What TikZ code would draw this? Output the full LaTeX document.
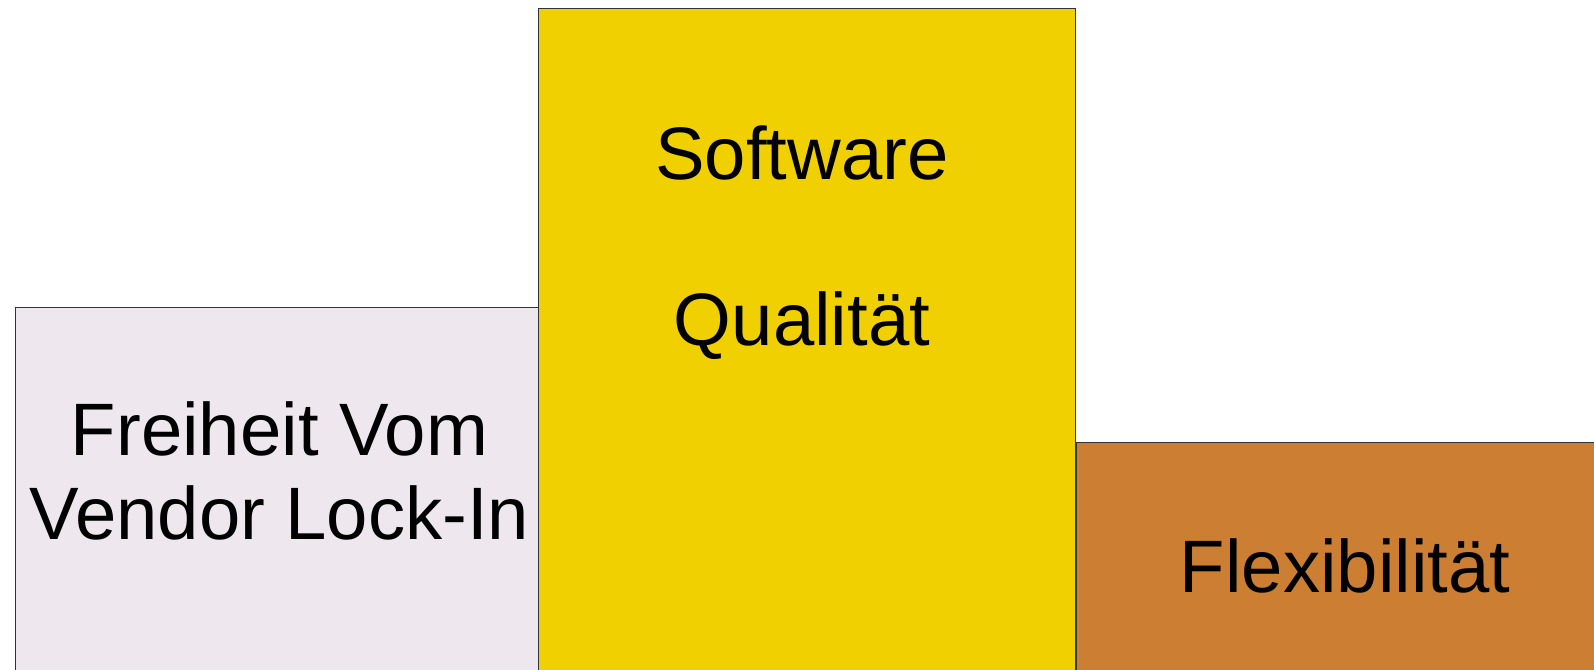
\documentclass[tikz,border=0pt]{standalone}
\usepackage{fontspec}
\setmainfont{Liberation Sans}
\definecolor{lavbox}{HTML}{EEE7EE}
\definecolor{yelbox}{HTML}{F0D000}
\definecolor{orabox}{HTML}{CC7E32}
\tikzset{
  panel/.style={rectangle, draw=black!80, line width=1pt, anchor=north west, inner sep=0pt, outer sep=0pt},
  label/.style={anchor=base, inner sep=0pt, font=\fontsize{74.3pt}{84pt}\selectfont, text=black},
}
\begin{document}
\begin{tikzpicture}[x=1pt,y=-1pt]
\useasboundingbox (0,0) rectangle (1594,669);
\clip (0,0) rectangle (1594,669);
\fill[white] (0,0) rectangle (1594,669);
\node[panel, fill=lavbox, minimum width=524pt, minimum height=400pt] (left) at (15,307) {};
\node[panel, fill=yelbox, minimum width=537pt, minimum height=700pt] (mid) at (538.5,8.5) {};
\node[panel, fill=orabox, minimum width=560pt, minimum height=300pt] (right) at (1076,442) {};
\node[label] (l1) at (279.5,455.7) {Freiheit Vom};
\node[label] (l2) at (279.5,539.3) {Vendor Lock-In};
\node[label] (s1) at (802,179) {Software};
\node[label] (s2) at (802,345) {Qualität};
\node[label] (f1) at (1345,592.3) {Flexibilität};
\end{tikzpicture}
\end{document}
